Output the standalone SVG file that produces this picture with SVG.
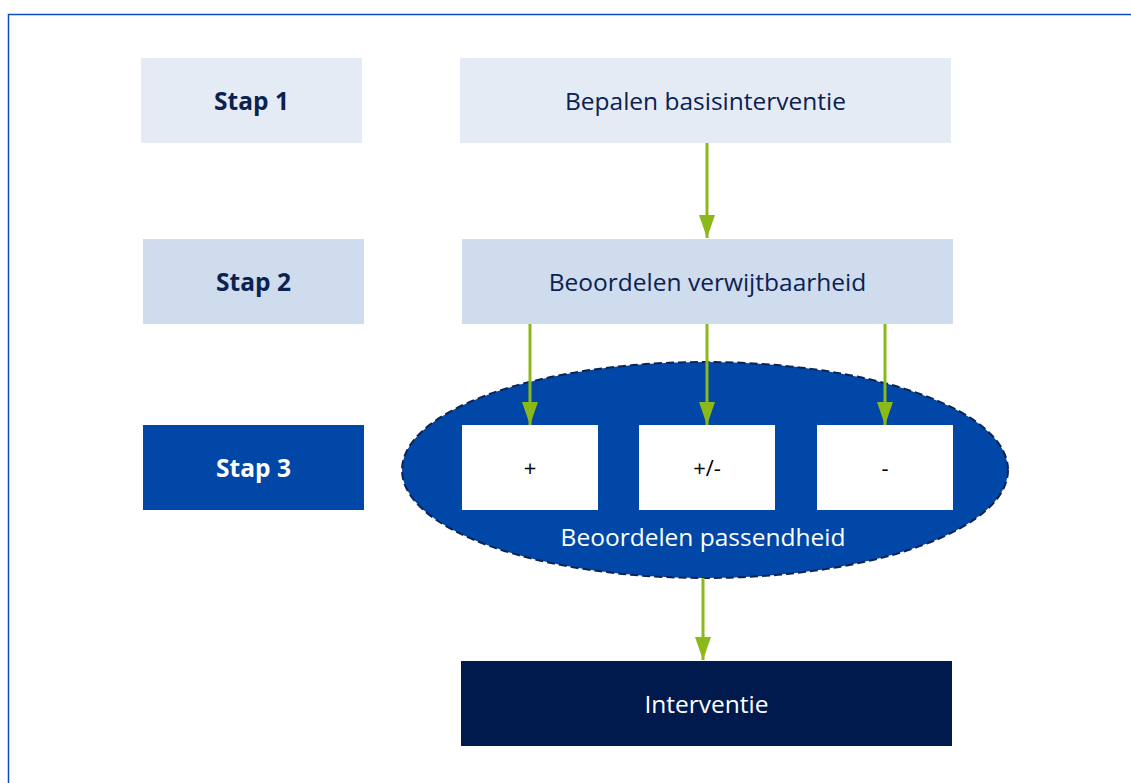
<svg xmlns="http://www.w3.org/2000/svg" width="1131" height="783" viewBox="0 0 1131 783">
  <defs>
    <style>
      .t { font-family: "Open Sans", "Liberation Sans", sans-serif; font-size: 24.5px; text-anchor: middle; dominant-baseline: central; }
      .dark { fill: #0b2150; }
      .white { fill: #ffffff; }
      .bold { font-weight: bold; }
      .sym { fill: #000000; font-family: "Open Sans", "Liberation Sans", sans-serif; font-size: 22px; text-anchor: middle; dominant-baseline: central; }
      .conn { stroke: #8ab919; stroke-width: 3; fill: none; }
    </style>
    <marker id="arr" viewBox="0 0 23 16" refX="23" refY="8" markerWidth="23" markerHeight="16" markerUnits="userSpaceOnUse" orient="auto">
      <path d="M0,0 L23,8 L0,16 Z" fill="#8ab919"/>
    </marker>
  </defs>
  <rect x="0" y="0" width="1131" height="783" fill="#ffffff"/>
  <path d="M8.5,783 L8.5,14.5 L1131,14.5" fill="none" stroke="#0a4fc0" stroke-width="1.5"/>

  <g id="stap1">
    <rect x="141" y="58" width="221" height="85" fill="#e5ebf5"/>
    <text class="t dark bold" x="251.5" y="100">Stap 1</text>
  </g>
  <g id="basisinterventie">
    <rect x="460" y="58" width="491" height="85" fill="#e5ebf5"/>
    <text class="t dark" x="705.5" y="100">Bepalen basisinterventie</text>
  </g>
  <g id="stap2">
    <rect x="143" y="239" width="221" height="85" fill="#cedcee"/>
    <text class="t dark bold" x="253.5" y="281">Stap 2</text>
  </g>
  <g id="verwijtbaarheid">
    <rect x="462" y="239" width="491" height="85" fill="#cedcee"/>
    <text class="t dark" x="707.5" y="281">Beoordelen verwijtbaarheid</text>
  </g>
  <g id="stap3">
    <rect x="143" y="425" width="221" height="85" fill="#0047a8"/>
    <text class="t white bold" x="253.5" y="467">Stap 3</text>
  </g>
  <g id="passendheid">
    <ellipse cx="705" cy="470" rx="303" ry="108" fill="#0047a8" stroke="#0d2453" stroke-width="2" stroke-dasharray="8 4"/>
    <text class="t white" x="703" y="536">Beoordelen passendheid</text>
  </g>
  <g id="plus">
    <rect x="462" y="425" width="136" height="85" fill="#ffffff"/>
    <text class="sym" x="530" y="467">+</text>
  </g>
  <g id="plusmin">
    <rect x="639" y="425" width="136" height="85" fill="#ffffff"/>
    <text class="sym" x="707" y="467">+/-</text>
  </g>
  <g id="min">
    <rect x="817" y="425" width="136" height="85" fill="#ffffff"/>
    <text class="sym" x="885" y="467">-</text>
  </g>
  <g id="interventie">
    <rect x="461" y="661" width="491" height="85" fill="#001a4e"/>
    <text class="t white" x="706.5" y="703">Interventie</text>
  </g>

  <g id="connectors">
    <line class="conn" x1="707" y1="143" x2="707" y2="238" marker-end="url(#arr)"/>
    <line class="conn" x1="530" y1="324" x2="530" y2="425" marker-end="url(#arr)"/>
    <line class="conn" x1="707" y1="324" x2="707" y2="425" marker-end="url(#arr)"/>
    <line class="conn" x1="885" y1="324" x2="885" y2="425" marker-end="url(#arr)"/>
    <line class="conn" x1="703" y1="578" x2="703" y2="660" marker-end="url(#arr)"/>
  </g>
</svg>
